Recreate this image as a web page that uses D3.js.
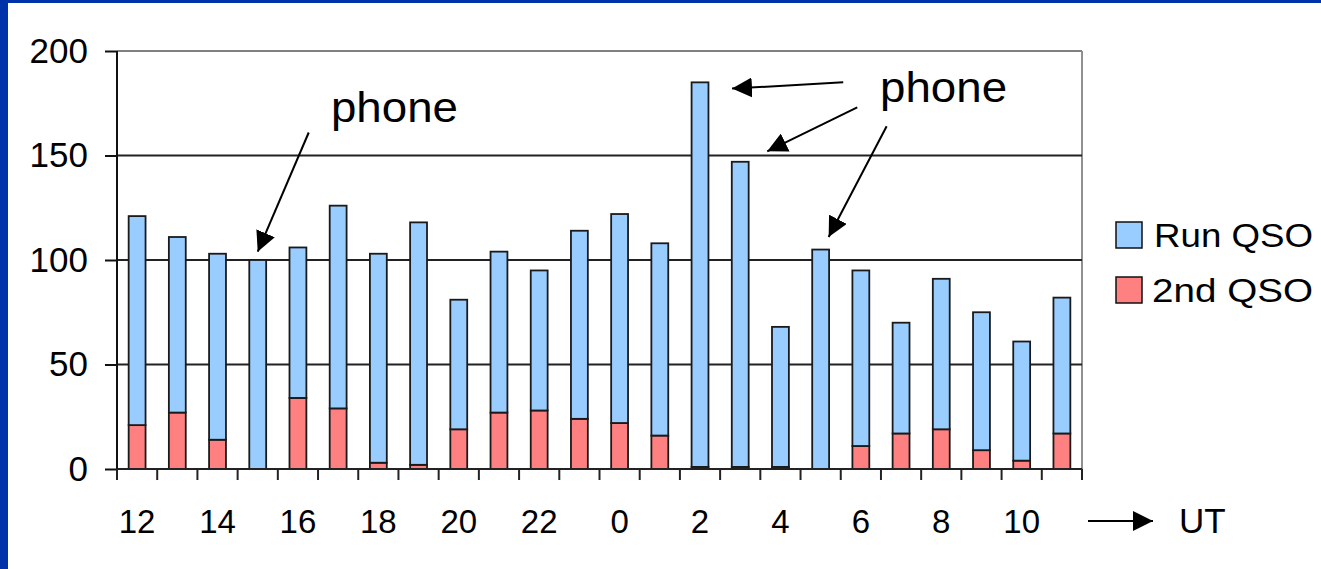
<!DOCTYPE html>
<html>
<head>
<meta charset="utf-8">
<script src="https://cdn.jsdelivr.net/npm/d3@7"></script>
<style>
  html, body { margin: 0; padding: 0; background: #fff; }
  svg { display: block; font-family: "Liberation Sans", Arial, sans-serif; }
</style>
</head>
<body>
<svg id="chart" width="1321" height="569"></svg>
<script>
// ---- data ----
const hours = ["12","13","14","15","16","17","18","19","20","21","22","23",
               "0","1","2","3","4","5","6","7","8","9","10","11"];
const secondQSO = [21,27,14,0,34,29,3,2,19,27,28,24,22,16,1,1,1,0,11,17,19,9,4,17];
const runQSO    = [100,84,89,100,72,97,100,116,62,77,67,90,100,92,184,146,67,105,84,53,72,66,57,65];
const yTicks = [0,50,100,150,200];
const xTickLabels = ["12","14","16","18","20","22","0","2","4","6","8","10"];
const seriesNames = ["Run QSO","2nd QSO"];
// annotations: label + arrows pointing at hours (offsets in px from band centres)
const phoneLabels = [
  {text: "phone", hour: "16", dx: 33,  value: 166},
  {text: "phone", hour: "7",  dx: -21, value: 175.5}
];
const phoneArrows = [
  {fromHour: "15", fdx: 51, fromValue: 161, hour: "15", dx: 0,  value: 104},
  {fromHour: "3",  fdx: 103, fromValue: 185, hour: "2",  dx: 32, value: 182},
  {fromHour: "3",  fdx: 117, fromValue: 173, hour: "3",  dx: 27, value: 152},
  {fromHour: "5",  fdx: 66, fromValue: 164, hour: "5",  dx: 8,  value: 111}
];

// ---- layout ----
const W = 1321, H = 569;
const mLeft = 117, mRight = 1082, mTop = 51, mBottom = 469;
const svg = d3.select("#chart");

// slide frame
svg.append("rect").attr("x",0).attr("y",0).attr("width",W).attr("height",H).attr("fill","#fff");
svg.append("rect").attr("x",0).attr("y",0).attr("width",8).attr("height",H).attr("fill","#0033aa");
svg.append("rect").attr("x",0).attr("y",0).attr("width",W).attr("height",3).attr("fill","#0033aa");

const x = d3.scaleBand().domain(hours).range([mLeft, mRight]).padding(0);
const bw = x.bandwidth() * 0.42;
const y = d3.scaleLinear().domain([0,200]).range([mBottom, mTop]);

const rows = hours.map((h,i) => ({hour:h, "2nd QSO": secondQSO[i], "Run QSO": runQSO[i]}));
const stacked = d3.stack().keys(["2nd QSO","Run QSO"])(rows);
const color = {"Run QSO":"#99ccff", "2nd QSO":"#ff8080"};

// frame lines (top & right grey)
svg.append("line").attr("x1",mLeft).attr("x2",mRight).attr("y1",y(200)).attr("y2",y(200))
  .attr("stroke","#808080").attr("stroke-width",2);
svg.append("line").attr("x1",mRight).attr("x2",mRight).attr("y1",y(200)).attr("y2",y(0))
  .attr("stroke","#909090").attr("stroke-width",2);

// gridlines
svg.append("g").selectAll("line").data(yTicks.filter(v => v>0 && v<200)).join("line")
  .attr("x1",mLeft).attr("x2",mRight).attr("y1",d=>y(d)).attr("y2",d=>y(d))
  .attr("stroke","#222").attr("stroke-width",2);

// bars
svg.append("g").selectAll("g").data(stacked).join("g")
  .attr("fill", s => color[s.key])
  .selectAll("rect").data(s => s.filter(d => d[1]-d[0] > 0)).join("rect")
  .attr("x", d => x(d.data.hour) + (x.bandwidth()-bw)/2)
  .attr("width", bw)
  .attr("y", d => y(d[1]))
  .attr("height", d => y(d[0]) - y(d[1]))
  .attr("stroke","#1a1a1a").attr("stroke-width",1.8);

// y axis
const yAxis = svg.append("g").attr("transform",`translate(${mLeft},0)`)
  .call(d3.axisLeft(y).tickValues(yTicks).tickSize(12).tickPadding(17));
yAxis.select(".domain").attr("stroke","#111").attr("stroke-width",2).attr("d", `M0,${y(0)}V${y(200)}`);
yAxis.selectAll(".tick line").attr("stroke","#111").attr("stroke-width",2);
yAxis.selectAll("text").attr("font-size",35).attr("fill","#000")
  .attr("font-family","Liberation Sans, Arial, sans-serif");

// x axis: labels at band centres
const xAxis = svg.append("g").attr("transform",`translate(0,${mBottom})`)
  .call(d3.axisBottom(x).tickSize(0).tickPadding(41)
    .tickFormat(d => xTickLabels.includes(d) ? d : ""));
xAxis.select(".domain").attr("stroke","#222").attr("stroke-width",2)
  .attr("d", `M${mLeft},0H${mRight}`);
xAxis.selectAll("text").attr("font-size",33).attr("fill","#000")
  .attr("font-family","Liberation Sans, Arial, sans-serif");
// x tick marks at band boundaries
svg.append("g").selectAll("line").data(hours.concat(["end"])).join("line")
  .attr("x1", (d,i) => i < hours.length ? x(d) : mRight)
  .attr("x2", (d,i) => i < hours.length ? x(d) : mRight)
  .attr("y1", mBottom).attr("y2", mBottom + 11)
  .attr("stroke","#222").attr("stroke-width",2);

// arrow marker
const defs = svg.append("defs");
defs.append("marker").attr("id","ah").attr("viewBox","0 0 20 20")
  .attr("refX",20).attr("refY",10).attr("markerWidth",20).attr("markerHeight",20)
  .attr("markerUnits","userSpaceOnUse").attr("orient","auto")
  .append("path").attr("d","M0,0L20,10L0,20Z").attr("fill","#000");

const cx = h => x(h) + x.bandwidth()/2;
svg.append("g").selectAll("line").data(phoneArrows).join("line")
  .attr("x1", d => cx(d.fromHour) + d.fdx).attr("y1", d => y(d.fromValue))
  .attr("x2", d => cx(d.hour) + d.dx).attr("y2", d => y(d.value))
  .attr("stroke","#000").attr("stroke-width",2).attr("marker-end","url(#ah)");

svg.append("g").selectAll("text").data(phoneLabels).join("text")
  .attr("x", d => cx(d.hour) + d.dx).attr("y", d => y(d.value))
  .attr("font-size",42).attr("fill","#000")
  .attr("textLength",127).attr("lengthAdjust","spacingAndGlyphs")
  .text(d => d.text);

// UT arrow + label
const utY = 521;
svg.append("line").attr("x1",1088).attr("x2",1153).attr("y1",utY).attr("y2",utY)
  .attr("stroke","#000").attr("stroke-width",2).attr("marker-end","url(#ah)");
svg.append("text").attr("x",1179).attr("y",533).attr("font-size",35).attr("fill","#000").text("UT");

// legend
const lg = svg.append("g").attr("transform","translate(1116,222)");
const items = lg.selectAll("g").data(seriesNames).join("g")
  .attr("transform",(d,i)=>`translate(0,${i*55})`);
items.append("rect").attr("width",26).attr("height",26)
  .attr("fill", d => color[d]).attr("stroke","#111").attr("stroke-width",1.5);
items.append("text").attr("x",d => d === "Run QSO" ? 38 : 36).attr("y",25).attr("font-size",34).attr("fill","#000")
  .attr("textLength", d => d === "Run QSO" ? 159 : 161).attr("lengthAdjust","spacingAndGlyphs")
  .text(d=>d);
</script>
</body>
</html>
